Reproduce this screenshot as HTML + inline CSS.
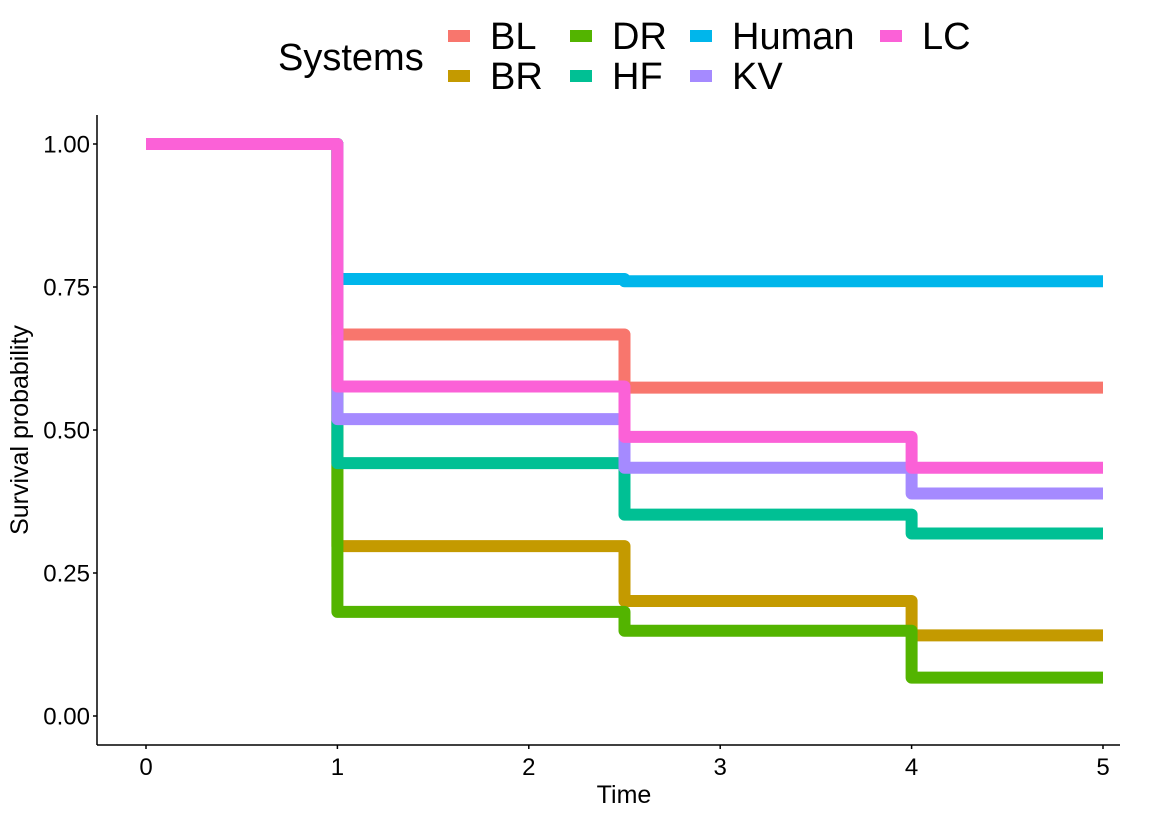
<!DOCTYPE html>
<html><head><meta charset="utf-8"><style>
body{margin:0;background:#fff}
svg{display:block;font-family:"Liberation Sans",sans-serif}
</style></head><body>
<svg id="chart" width="1159" height="817">
<g id="legend"></g>
<g id="plot"></g>
<g id="axes"></g>
</svg>
<script>
const seriesNames = ["BL","BR","DR","HF","Human","KV","LC"];
const colors = ["#F8766D","#C49A00","#53B400","#00C094","#00B6EB","#A58AFF","#FB61D7"];
const times = [0, 1, 2.5, 4, 5];
const survBL = [1, 0.667, 0.574, 0.574, 0.574];
const survBR = [1, 0.297, 0.201, 0.141, 0.141];
const survDR = [1, 0.182, 0.149, 0.067, 0.067];
const survHF = [1, 0.442, 0.352, 0.319, 0.319];
const survHuman = [1, 0.764, 0.760, 0.760, 0.760];
const survKV = [1, 0.519, 0.434, 0.389, 0.389];
const survLC = [1, 0.576, 0.488, 0.434, 0.434];
const xTicks = [0,1,2,3,4,5];
const yTicks = [0,0.25,0.5,0.75,1];
const yTickLabels = ["0.00","0.25","0.50","0.75","1.00"];

const NS="http://www.w3.org/2000/svg";
const xs = v => 146 + v*191.4;
const ys = v => 716 - v*572;
function mk(tag, attrs, parent){const e=document.createElementNS(NS,tag);for(const k in attrs)e.setAttribute(k,attrs[k]);parent.appendChild(e);return e;}
const plot=document.getElementById('plot'), axes=document.getElementById('axes'), legend=document.getElementById('legend');
const allSurv=[survBL,survBR,survDR,survHF,survHuman,survKV,survLC];
allSurv.forEach((s,i)=>{
  let d=`M${xs(times[0])},${ys(s[0])}`;
  for(let j=1;j<times.length;j++){d+=` H${xs(times[j])} V${ys(s[j])}`;}
  const p=mk('path',{d:d,fill:'none',stroke:colors[i],'stroke-width':12,'stroke-linejoin':'round'},plot);
  
  
});
let a=mk('line',{x1:97,y1:115,x2:97,y2:745,stroke:'#000','stroke-width':1.5},axes);

a=mk('line',{x1:97,y1:745,x2:1120,y2:745,stroke:'#000','stroke-width':1.5},axes);

xTicks.forEach(t=>{
  mk('line',{x1:xs(t),x2:xs(t),y1:745,y2:749,stroke:'#000','stroke-width':1.5},axes);
  const tx=mk('text',{x:xs(t),y:775,'text-anchor':'middle','font-size':24,fill:'#000'},axes);
  tx.textContent=t;
  
});
yTicks.forEach((t,i)=>{
  mk('line',{x1:93,x2:97,y1:ys(t),y2:ys(t),stroke:'#000','stroke-width':1.5},axes);
  const tx=mk('text',{x:90,y:ys(t)+8.5,'text-anchor':'end','font-size':24,fill:'#000'},axes);
  tx.textContent=yTickLabels[i];
  
});
let tt=mk('text',{x:624,y:803,'text-anchor':'middle','font-size':25},axes);tt.textContent='Time';

tt=mk('text',{x:0,y:0,'text-anchor':'middle','font-size':25,transform:'translate(28,430) rotate(-90)'},axes);tt.textContent='Survival probability';

tt=mk('text',{x:278,y:70,'font-size':38},legend);tt.textContent='Systems';

const lx=[448,448,570,570,690,690,880], ly=[36,76,36,76,36,76,36];
seriesNames.forEach((n,i)=>{
  const r=mk('rect',{x:lx[i],y:ly[i]-6,width:22,height:12,fill:colors[i]},legend);
  
  const t=mk('text',{x:lx[i]+42,y:ly[i]+13,'font-size':38},legend);t.textContent=n;
  
});
</script>
</body></html>
